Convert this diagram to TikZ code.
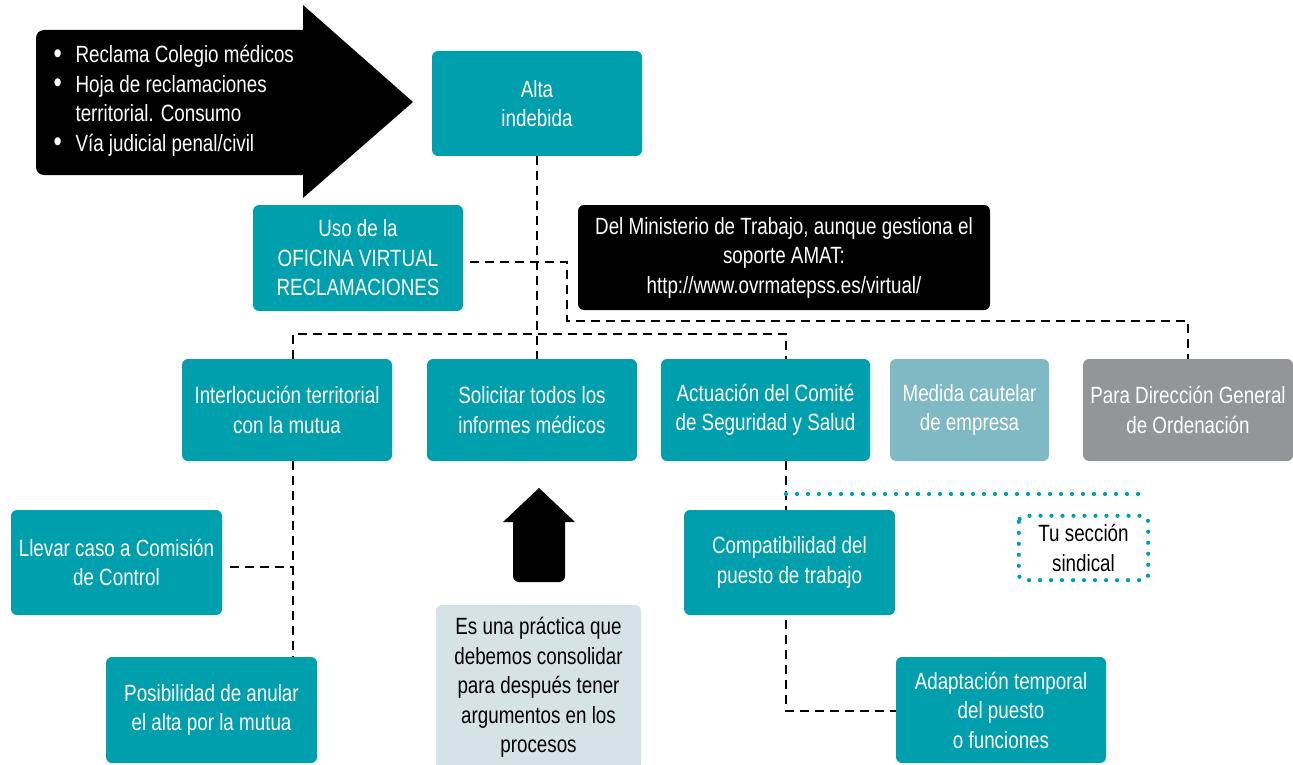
\documentclass[tikz,border=0pt]{standalone}
\usepackage{fontspec}
\setmainfont{Liberation Sans}[FakeStretch=0.8]
\usetikzlibrary{calc}
\definecolor{tealbox}{RGB}{0,159,173}
\definecolor{tealpale}{RGB}{127,185,196}
\definecolor{greybox}{RGB}{147,149,152}
\definecolor{notebox}{RGB}{213,227,231}
\newcommand{\bulletmark}{\makebox[22pt][l]{\raisebox{-0.5pt}{\scalebox{1.25}{•}}}}
\newcommand{\bulletgap}{\makebox[22pt][l]{}}
\begin{document}
\begin{tikzpicture}[x=1pt,y=-1pt,
  txt/.style={font=\fontsize{23.5}{29.5}\selectfont},
  box/.style={txt, rounded corners=6pt, fill=tealbox, text=white, align=center,
    inner sep=0pt, minimum width=210pt, minimum height=105pt},
  blackbox/.style={box, fill=black},
  dashline/.style={draw=black, line width=2.3pt, dash pattern=on 9pt off 6pt},
  dotline/.style={draw=tealbox, line width=4.2pt, line cap=round, dash pattern=on 0pt off 11pt}]
\useasboundingbox (0,0) rectangle (1293,765);

% big black arrow pointing at the first box
\fill[rounded corners=8pt] (170,30) -- (36,30) -- (36,175) -- (170,175) [sharp corners]
  -- (303,175) -- (303,198) -- (413,102) -- (303,5) -- (303,30) -- cycle;
\node[txt, text=white, align=left, anchor=west] (list) at (50,101)
  {\bulletmark Reclama Colegio médicos\\
   \bulletmark Hoja de reclamaciones\\
   \bulletgap territorial. Consumo\\
   \bulletmark Vía judicial penal/civil};

% boxes
\node[box] (alta) at (537,103.5) {Alta\\indebida};
\node[box, minimum height=106pt] (uso) at (358,258) {Uso de la\\OFICINA VIRTUAL\\RECLAMACIONES};
\node[blackbox, minimum width=412pt] (min) at (784,257.5)
  {Del Ministerio de Trabajo, aunque gestiona el\\soporte AMAT:\\http://www.ovrmatepss.es/virtual/};
\node[box, minimum height=102pt] (inter) at (287,410) {Interlocución territorial\\con la mutua};
\node[box, minimum height=102pt] (solic) at (532,410) {Solicitar todos los\\informes médicos};
\node[box, minimum height=102pt, minimum width=209pt] (act) at (765.5,410) {Actuación del Comité\\de Seguridad y Salud};
\node[box, minimum height=102pt, minimum width=159pt, fill=tealpale] (med) at (969.5,410) {Medida cautelar\\de empresa};
\node[box, minimum height=102pt, fill=greybox] (para) at (1188,410) {Para Dirección General\\de Ordenación};
\node[box, minimum width=211pt] (llevar) at (116.5,562.5) {Llevar caso a Comisión\\de Control};
\node[box, minimum width=211pt, minimum height=106pt] (posib) at (211.5,710) {Posibilidad de anular\\el alta por la mutua};
\node[box, fill=notebox, text=black, minimum width=205pt, minimum height=165pt] (nota) at (538.5,687.5)
  {Es una práctica que\\debemos consolidar\\para después tener\\argumentos en los\\procesos};
\node[box, minimum width=211pt] (compat) at (789.5,562.5) {Compatibilidad del\\puesto de trabajo};
\node[box, minimum height=106pt] (adapt) at (1001,710) {Adaptación temporal\\del puesto\\o funciones};
\node[txt, align=center, text=black, rounded corners=6pt, inner sep=0pt,
  minimum width=129pt, minimum height=64pt] (tu) at (1083.5,548) {Tu sección\\sindical};
\draw[dotline, rounded corners=6pt] (tu.north west) rectangle (tu.south east);

% black up arrow under the second box
\fill (539,488) -- (575,522) -- (565,522) [rounded corners=6pt] -- (565,582) -- (513,582)
  [sharp corners] -- (513,522) -- (503,522) -- cycle;

% junction points of the dashed connectors
\coordinate (j1) at (293,334);
\coordinate (j2) at (786,334);
\coordinate (k1) at (567,262);
\coordinate (k2) at (567,321);
\coordinate (d1) at (786,494);
\coordinate (a1) at (786,711);

% connectors
\draw[dashline] (alta.south) -- (alta.south |- solic.north);
\draw[dashline, shorten <=7pt] (uso.east |- k1) -- (k1) -- (k2) -- (k2 -| para.north) -- (para.north);
\draw[dashline] (j1 |- inter.north) -- (j1) -- (j2) -- (j2 |- act.north);
\draw[dashline] (j1 |- inter.south) -- (j1 |- posib.north);
\draw[dashline, shorten <=8pt] (llevar.east |- 0,567) -- (j1 |- 0,567);
\draw[dashline] (j2 |- act.south) -- (j2 |- compat.north);
\draw[dashline, shorten <=5pt] (j2 |- compat.south) -- (a1) -- (a1 -| adapt.west);
\draw[dotline] (d1) -- (d1 -| tu.east);
\end{tikzpicture}
\end{document}
